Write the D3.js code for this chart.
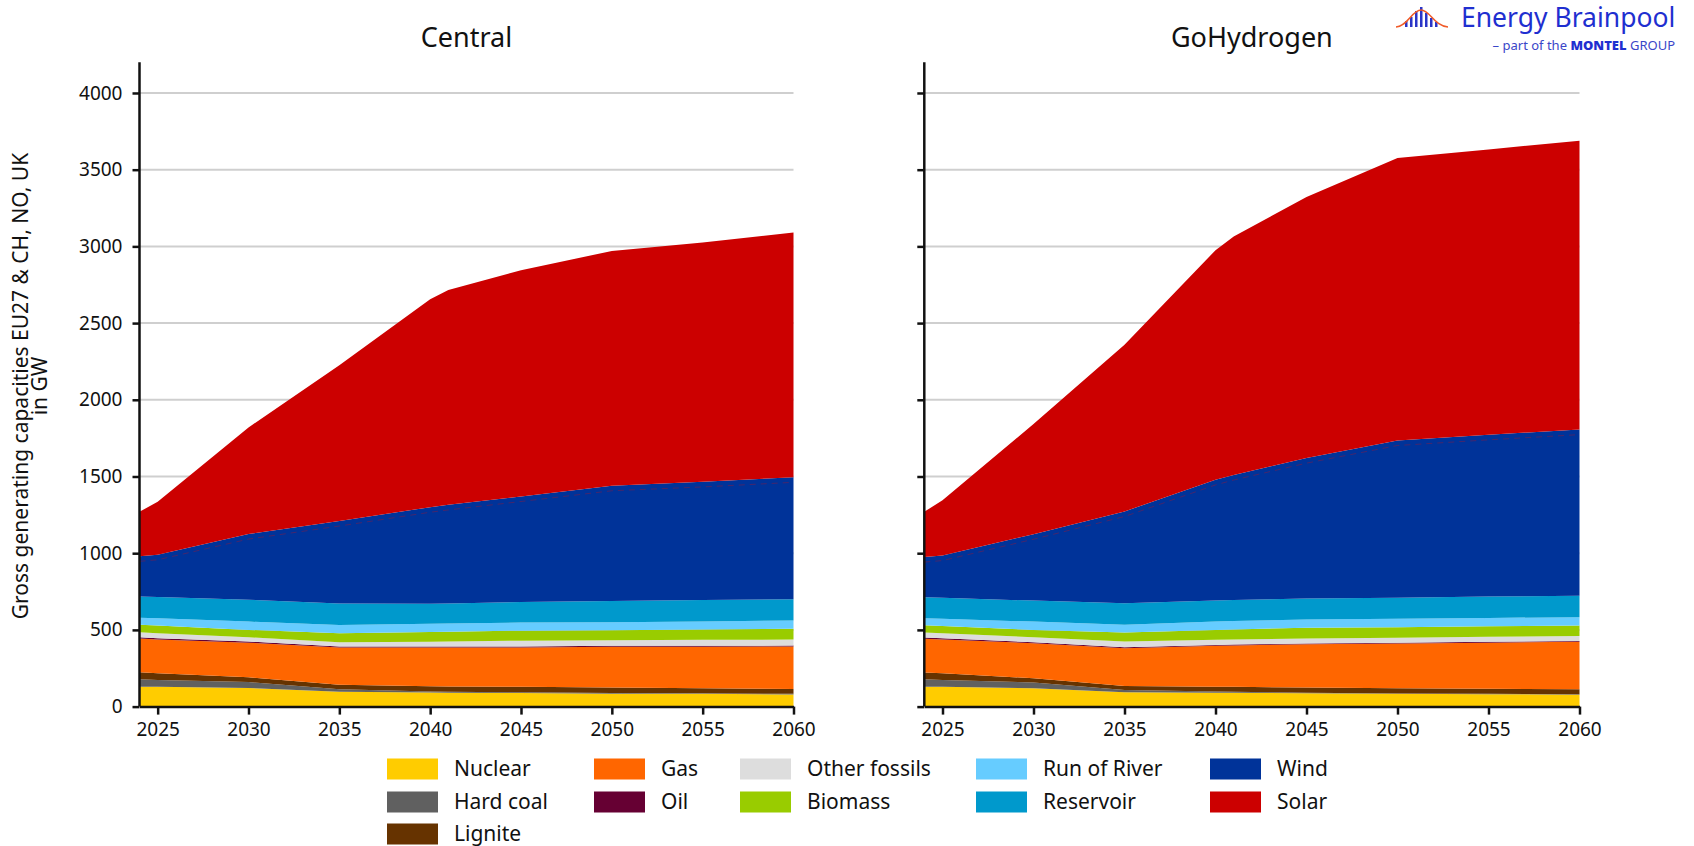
<!DOCTYPE html>
<html>
<head>
<meta charset="utf-8">
<script src="https://cdn.jsdelivr.net/npm/d3@7"></script>
<style>
body { margin: 0; background: #fff; }
svg text { font-family: "Noto Sans", sans-serif; fill: #111; }
</style>
</head>
<body>
<div id="chart"></div>
<script>
// years with a data point (GW, gross generating capacity)
var years = [2024, 2025, 2030, 2035, 2040, 2041, 2045, 2050, 2055, 2060];
var technologies = ["Nuclear", "Hard coal", "Lignite", "Gas", "Oil", "Other fossils",
    "Biomass", "Run of River", "Reservoir", "Wind", "Solar"];
var techColors = ["#ffcc00", "#606060", "#663300", "#ff6600", "#660033", "#dddddd",
    "#99cc00", "#66ccff", "#0099cc", "#003399", "#cc0000"];
var scenarios = ["Central", "GoHydrogen"];
var yTicks = [0, 500, 1000, 1500, 2000, 2500, 3000, 3500, 4000];
var xTicks = [2025, 2030, 2035, 2040, 2045, 2050, 2055, 2060];

// Central
var centralNuclear = [130, 130, 121, 97, 92, 91, 88, 84, 83, 79];
var centralHardCoal = [48, 44, 39, 16, 6, 6, 5, 4, 4, 4];
var centralLignite = [46, 43, 31, 29, 35, 34, 37, 36, 33, 32];
var centralGas = [220, 221, 226, 244, 253, 255, 256, 266, 270, 277];
var centralOil = [8, 8, 7, 6, 6, 6, 6, 6, 6, 6];
var centralOtherFossils = [33, 32, 28, 28, 31, 33, 38, 37, 39, 39];
var centralBiomass = [48, 50, 48, 58, 63, 63, 65, 65, 67, 70];
var centralRunOfRiver = [47, 48, 54, 54, 54, 54, 53, 52, 53, 54];
var centralReservoir = [138, 138, 143, 140, 130, 130, 134, 139, 140, 139];
var centralWind = [262, 276, 428, 538, 630, 643, 688, 751, 770, 795];
var centralSolar = [290, 345, 695, 1015, 1355, 1400, 1475, 1530, 1560, 1595];

// GoHydrogen
var hydrogenNuclear = [130, 130, 120, 93, 91, 90, 87, 83, 81, 78];
var hydrogenHardCoal = [48, 44, 37, 16, 7, 6, 4, 3, 3, 3];
var hydrogenLignite = [44, 43, 28, 26, 32, 33, 33, 34, 32, 32];
var hydrogenGas = [220, 220, 228, 246, 266, 270, 282, 291, 301, 309];
var hydrogenOil = [8, 8, 7, 6, 6, 6, 6, 6, 6, 6];
var hydrogenOtherFossils = [33, 33, 32, 37, 33, 33, 32, 32, 32, 33];
var hydrogenBiomass = [47, 48, 48, 59, 65, 65, 70, 69, 68, 67];
var hydrogenRunOfRiver = [46, 46, 54, 50, 54, 55, 54, 55, 55, 55];
var hydrogenReservoir = [137, 137, 137, 141, 137, 137, 137, 137, 139, 139];
var hydrogenWind = [262, 276, 433, 598, 787, 815, 915, 1025, 1055, 1084];
var hydrogenSolar = [295, 360, 718, 1086, 1497, 1555, 1702, 1841, 1860, 1883];

var seriesByScenario = {
    Central: [centralNuclear, centralHardCoal, centralLignite, centralGas, centralOil,
        centralOtherFossils, centralBiomass, centralRunOfRiver, centralReservoir, centralWind, centralSolar],
    GoHydrogen: [hydrogenNuclear, hydrogenHardCoal, hydrogenLignite, hydrogenGas, hydrogenOil,
        hydrogenOtherFossils, hydrogenBiomass, hydrogenRunOfRiver, hydrogenReservoir, hydrogenWind, hydrogenSolar]
};

var toRows = function (series) {
    return years.map(function (yr, i) {
        var row = { year: yr };
        technologies.forEach(function (t, k) { row[t] = series[k][i]; });
        return row;
    });
};

var width = 1694, height = 846;
var svg = d3.select("#chart").append("svg")
    .attr("width", width)
    .attr("height", height);

var y = d3.scaleLinear().domain([0, 4200]).range([706.6, 62.3]);
var panels = [
    { name: "Central", x0: 139.5, x1: 793.5 },
    { name: "GoHydrogen", x0: 924.3, x1: 1579.5 }
];
var color = d3.scaleOrdinal().domain(technologies).range(techColors);
var stack = d3.stack().keys(technologies);

panels.forEach(function (p, pi) {
    var x = d3.scaleLinear().domain([2024, 2060]).range([p.x0, p.x1]);
    var g = svg.append("g");
    var layers = stack(toRows(seriesByScenario[p.name]));

    // gridlines
    g.selectAll(".grid")
        .data(yTicks.slice(1))
        .enter()
        .append("line")
        .attr("x1", p.x0)
        .attr("x2", p.x1)
        .attr("y1", function (d) { return y(d); })
        .attr("y2", function (d) { return y(d); })
        .style("stroke", "#cfcfcf")
        .style("stroke-width", "2px");

    var area = d3.area()
        .x(function (d) { return x(d.data.year); })
        .y0(function (d) { return y(d[0]); })
        .y1(function (d) { return y(d[1]); });

    g.selectAll(".layer")
        .data(layers)
        .enter()
        .append("path")
        .attr("class", "layer")
        .attr("fill", function (d) { return color(d.key); })
        .attr("d", area);

    // faint dashed marker just below the wind top
    var wind = layers[technologies.indexOf("Wind")];
    g.append("path")
        .attr("d", d3.line()
            .x(function (d) { return x(d.data.year); })
            .y(function (d) { return y(d[1] - 33); })(wind))
        .attr("fill", "none")
        .style("stroke", "#8a1a40")
        .style("stroke-width", "1px")
        .style("stroke-dasharray", "6,5")
        .style("opacity", 0.5);

    var yAxis = d3.axisLeft(y)
        .tickValues(yTicks)
        .tickSize(7)
        .tickSizeOuter(0)
        .tickPadding(10)
        .tickFormat(pi === 0 ? d3.format("d") : function () { return ""; });
    var ya = g.append("g")
        .attr("transform", "translate(" + p.x0 + ",0)")
        .call(yAxis);
    ya.select(".domain").attr("d", "M0," + y(4200) + "V" + y(0));

    var xAxis = d3.axisBottom(x)
        .tickValues(xTicks)
        .tickSize(8)
        .tickSizeOuter(0)
        .tickPadding(8)
        .tickFormat(d3.format("d"));
    var xa = g.append("g")
        .attr("transform", "translate(0," + y(0) + ")")
        .call(xAxis);

    [ya, xa].forEach(function (a) {
        a.select(".domain").style("stroke", "#111").style("stroke-width", "2.5px");
        a.selectAll(".tick line").style("stroke", "#111").style("stroke-width", "2.5px");
        a.selectAll(".tick text").style("font-size", "19px").style("fill", "#111")
            .style("font-family", "'Noto Sans', sans-serif");
    });

    g.append("text")
        .attr("x", (p.x0 + p.x1) / 2)
        .attr("y", 38)
        .attr("dy", "0.35em")
        .attr("text-anchor", "middle")
        .style("font-size", "27px")
        .text(p.name);
});

// y axis title
var yTitle = svg.append("text")
    .attr("transform", "translate(21,386) rotate(-90)")
    .attr("text-anchor", "middle")
    .style("font-size", "21px");
yTitle.append("tspan").attr("x", 0).attr("dy", "0.35em").text("Gross generating capacities EU27 & CH, NO, UK");
yTitle.append("tspan").attr("x", 0).attr("dy", "0.9em").text("in GW");

// legend (column-major)
var legendCols = [387, 594, 740, 976, 1210];
var legendRows = [769, 802, 834];
var legendPos = function (i) {
    if (i < 3) return [0, i];
    var j = i - 3;
    return [1 + Math.floor(j / 2), j % 2];
};
var legend = svg.selectAll(".legend")
    .data(technologies)
    .enter()
    .append("g")
    .attr("class", "legend")
    .attr("transform", function (d, i) {
        var pos = legendPos(i);
        return "translate(" + legendCols[pos[0]] + "," + legendRows[pos[1]] + ")";
    });
legend.append("rect")
    .attr("x", 0)
    .attr("y", -10.5)
    .attr("width", 51)
    .attr("height", 21)
    .attr("fill", function (d) { return color(d); });
legend.append("text")
    .attr("x", 67)
    .attr("dy", "0.35em")
    .style("font-size", "21px")
    .text(function (d) { return d; });

// logo
var logo = svg.append("g");
var logoBars = [6, 10, 16, 20, 14, 9, 5];
logo.selectAll(".lb")
    .data(logoBars)
    .enter()
    .append("rect")
    .attr("x", function (d, i) { return 1405 + i * 5; })
    .attr("y", function (d) { return 27 - d; })
    .attr("width", 2.5)
    .attr("height", function (d) { return d; })
    .attr("fill", "#2a35c8");
logo.append("path")
    .attr("d", "M1396,27 C1408,26 1412,10 1421,10 C1430,10 1434,26 1448,27")
    .attr("fill", "none")
    .style("stroke", "#f05a28")
    .style("stroke-width", "1.5px");
logo.append("text")
    .attr("x", 1461)
    .attr("y", 18)
    .attr("dy", "0.35em")
    .style("font-size", "26.5px")
    .style("fill", "#1f2fd0")
    .text("Energy Brainpool");
var sub = logo.append("text")
    .attr("x", 1675)
    .attr("y", 45)
    .attr("dy", "0.35em")
    .attr("text-anchor", "end")
    .style("font-size", "13px")
    .style("fill", "#3a46c8");
sub.append("tspan").text("– part of the ");
sub.append("tspan").style("font-weight", "900").style("fill", "#1f2fd0").text("MONTEL");
sub.append("tspan").text(" GROUP");
</script>
</body>
</html>
